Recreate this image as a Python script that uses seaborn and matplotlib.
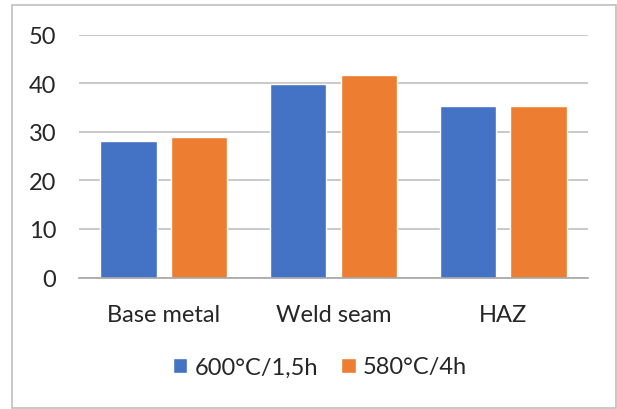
import matplotlib
matplotlib.use("Agg")
import matplotlib.pyplot as plt
import seaborn as sns
import pandas as pd
from matplotlib.patches import Rectangle

categories = ["Base metal", "Weld seam", "HAZ"]
series_names = ["600°C/1,5h", "580°C/4h"]
values_600 = [28.1, 39.8, 35.2]
values_580 = [28.9, 41.6, 35.2]
y_ticks = [0, 10, 20, 30, 40, 50]

df = pd.DataFrame({
    "zone": categories * 2,
    "treatment": [series_names[0]] * 3 + [series_names[1]] * 3,
    "value": values_600 + values_580,
})

sns.set_theme(style="white")
plt.rcParams["font.family"] = ["Lato", "DejaVu Sans"]

fig = plt.figure(figsize=(6.17, 4.10), dpi=100)
ax = fig.add_axes([79 / 617, 1 - 278.5 / 410, (588 - 79) / 617, (278.5 - 35.5) / 410])

sns.barplot(
    data=df, x="zone", y="value", hue="treatment",
    palette=["#4472C4", "#ED7D31"], width=0.83, gap=0.2,
    saturation=1, ax=ax, legend=True,
)

ax.set_xlim(-0.5, 2.5)
ax.set_ylim(0, 50)
ax.set_yticks(y_ticks)
ax.set_yticklabels([str(t) for t in y_ticks])
ax.set_xlabel("")
ax.set_ylabel("")
ax.grid(axis="y", color="#c0c0c0", linewidth=1.2)
ax.set_axisbelow(True)
for side in ["top", "right", "left"]:
    ax.spines[side].set_visible(False)
ax.spines["bottom"].set_color("#a6a6a6")
ax.spines["bottom"].set_linewidth(1.2)
ax.tick_params(axis="y", length=0, pad=16.5, labelsize=17, labelcolor="#262626")
ax.tick_params(axis="x", length=0, pad=19, labelsize=17, labelcolor="#262626")

handles, labels = ax.get_legend_handles_labels()
ax.legend(
    handles, labels, loc="center", bbox_to_anchor=(320 / 617, 1 - 368 / 410),
    bbox_transform=fig.transFigure, ncol=2, frameon=False, fontsize=17,
    handlelength=0.6, handleheight=0.6, handletextpad=0.3, columnspacing=1.0,
    labelcolor="#262626",
)

fig.patches.append(Rectangle(
    (11.5 / 617, 1 - 409 / 410), (616 - 11.5) / 617, (409 - 6) / 410,
    transform=fig.transFigure, fill=False, edgecolor="#bfbfbf", linewidth=1.2,
))

fig.savefig("out.png", dpi=100)
